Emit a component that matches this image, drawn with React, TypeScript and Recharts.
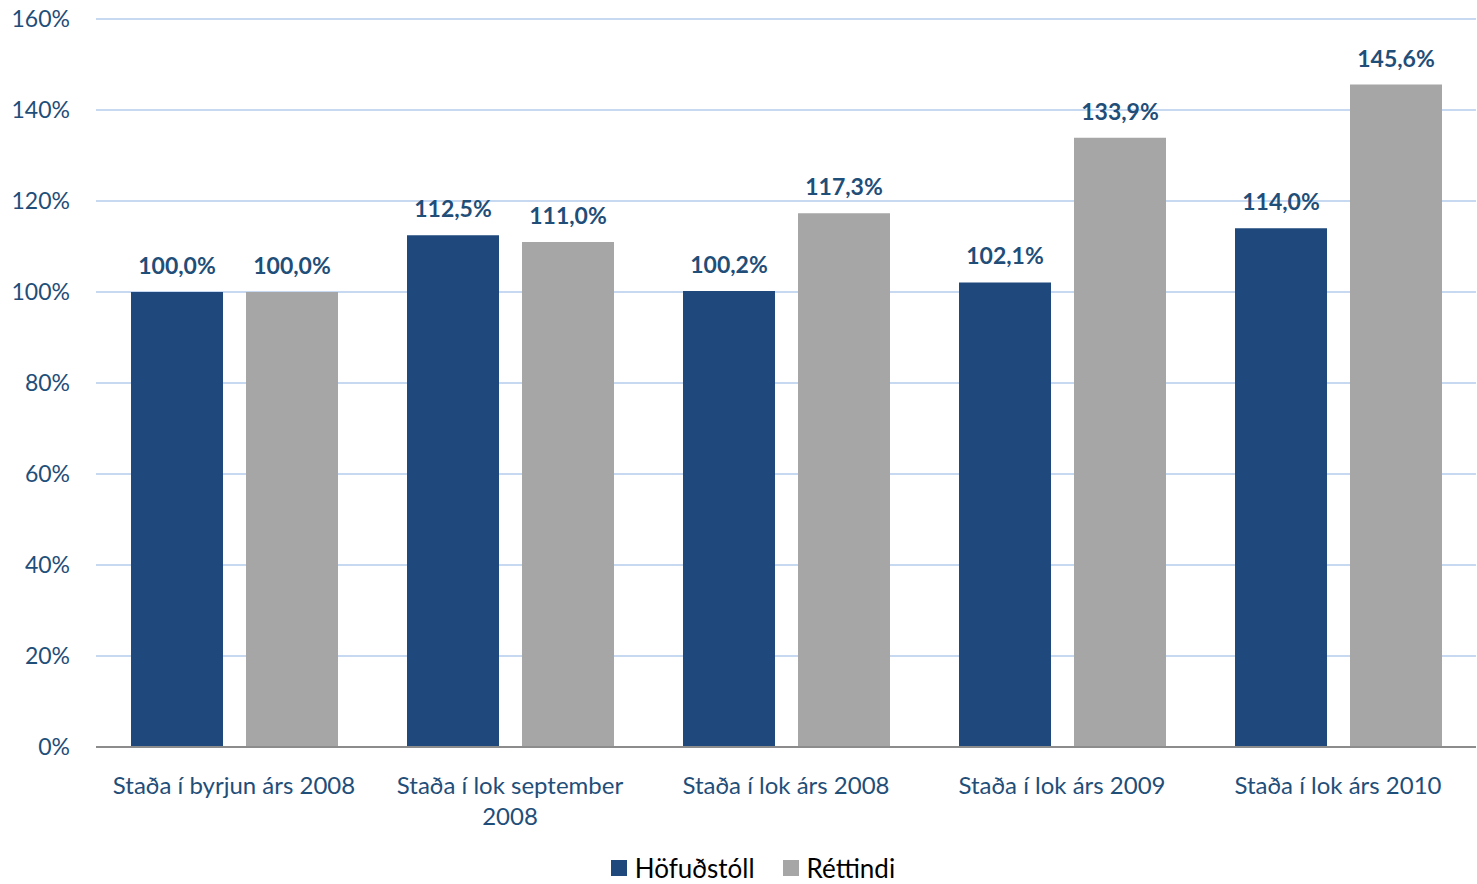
import React from "react";
import { BarChart, Bar, XAxis, YAxis, CartesianGrid, Legend, LabelList } from "recharts";

const categories = [
  "Staða í byrjun árs 2008",
  "Staða í lok september 2008",
  "Staða í lok árs 2008",
  "Staða í lok árs 2009",
  "Staða í lok árs 2010",
];
const hofudstoll = [100.0, 112.5, 100.2, 102.1, 114.0];
const rettindi = [100.0, 111.0, 117.3, 133.9, 145.6];
const yTicks = [0, 20, 40, 60, 80, 100, 120, 140, 160];
const seriesNames = ["Höfuðstóll", "Réttindi"];

const data = categories.map((c, i) => ({ name: c, h: hofudstoll[i], r: rettindi[i] }));

const FONT = "Lato, 'Open Sans', sans-serif";
const TEXT_COLOR = "#1F4E79";
const BLUE = "#1F497D";
const GRAY = "#A6A6A6";

const fmt = (v: number) => v.toFixed(1).replace(".", ",") + "%";

let ctx: CanvasRenderingContext2D | null = null;
const measure = (s: string, font: string) => {
  if (!ctx && typeof document !== "undefined") {
    ctx = document.createElement("canvas").getContext("2d");
  }
  if (!ctx) return s.length * 11;
  ctx.font = font;
  return ctx.measureText(s).width;
};

const wrap = (text: string, maxW: number, font: string) => {
  const words = text.split(" ");
  const lines: string[] = [];
  let cur = "";
  words.forEach((w) => {
    const t = cur ? cur + " " + w : w;
    if (cur && measure(t, font) > maxW) {
      lines.push(cur);
      cur = w;
    } else {
      cur = t;
    }
  });
  if (cur) lines.push(cur);
  return lines;
};

const XTick = (props: any) => {
  const { x, y, payload } = props;
  const lines = wrap(String(payload.value), 260, "24px Lato");
  return (
    <text x={x} y={y} textAnchor="middle" fill={TEXT_COLOR} fontSize={24} fontFamily={FONT}>
      {lines.map((l, i) => (
        <tspan key={i} x={x} dy={i === 0 ? 39 : 31}>
          {l}
        </tspan>
      ))}
    </text>
  );
};

const LegendContent = () => {
  const colors = [BLUE, GRAY];
  return (
    <div
      style={{
        display: "flex",
        justifyContent: "center",
        paddingLeft: 30,
        paddingTop: 17,
        fontFamily: FONT,
        fontSize: 26,
        lineHeight: "26px",
        color: "#000",
      }}
    >
      {seriesNames.map((n, i) => (
        <div key={n} style={{ display: "flex", alignItems: "center", marginRight: i === 0 ? 28 : 0 }}>
          <span style={{ display: "inline-block", width: 16, height: 16, background: colors[i], marginRight: 8 }} />
          <span>{n}</span>
        </div>
      ))}
    </div>
  );
};

export default function App() {
  return (
    <div style={{ position: "absolute", left: 0, top: 0, width: 1477, height: 884, background: "#fff" }}>
      <BarChart
        width={1477}
        height={884}
        data={data}
        margin={{ top: 19, right: 1, left: 0, bottom: 0 }}
        barSize={92}
        barGap={23}
      >
        <CartesianGrid vertical={false} stroke="#C6D9F1" strokeWidth={2} />
        <XAxis
          dataKey="name"
          tickLine={false}
          axisLine={{ stroke: "#8C8C8C", strokeWidth: 2 }}
          height={91}
          interval={0}
          tick={<XTick />}
        />
        <YAxis
          width={96}
          domain={[0, 160]}
          ticks={yTicks}
          tickFormatter={(v: number) => v + "%"}
          axisLine={false}
          tickLine={false}
          tickSize={0}
          tickMargin={26}
          tick={{ fill: TEXT_COLOR, fontSize: 23, fontFamily: FONT }}
        />
        <Legend verticalAlign="bottom" height={46} content={<LegendContent />} />
        <Bar dataKey="h" name={seriesNames[0]} fill={BLUE} isAnimationActive={false}>
          <LabelList
            dataKey="h"
            position="top"
            offset={18}
            formatter={fmt}
            style={{ fill: TEXT_COLOR, fontSize: 23, fontWeight: 700, fontFamily: FONT }}
          />
        </Bar>
        <Bar dataKey="r" name={seriesNames[1]} fill={GRAY} isAnimationActive={false}>
          <LabelList
            dataKey="r"
            position="top"
            offset={18}
            formatter={fmt}
            style={{ fill: TEXT_COLOR, fontSize: 23, fontWeight: 700, fontFamily: FONT }}
          />
        </Bar>
      </BarChart>
    </div>
  );
}
